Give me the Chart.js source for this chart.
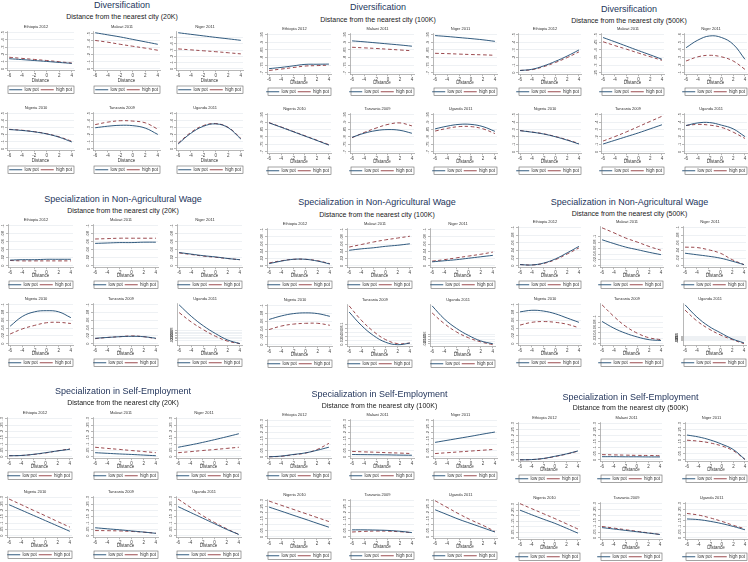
<!DOCTYPE html>
<html>
<head>
<meta charset="utf-8">
<script src="https://cdn.jsdelivr.net/npm/chart.js@4.4.1/dist/chart.umd.min.js"></script>
<style>
  body { margin: 0; background: #fff; }
  #page { position: relative; width: 748px; height: 562px; overflow: hidden; background: #fff;
          font-family: 'Liberation Sans', Arial, sans-serif; }
  .ttl { position: absolute; transform: translate(-50%, -50%); white-space: nowrap; }
  .main { font-size: 9px; color: #24365c; }
  .sub { font-size: 7px; color: #1a1a1a; }
  canvas { position: absolute; }
</style>
</head>
<body>
<div id="page"></div>
<script>
// x values and labels shared by every small plot
const distance = [-6, -4, -2, 0, 2, 4];
const xTicks = [-6, -4, -2, 0, 2, 4];
const countries = ['Ethiopia 2012', 'Malawi 2011', 'Niger 2011', 'Nigeria 2010', 'Tanzania 2009', 'Uganda 2011'];
const seriesNames = ['low pot', 'high pot'];
const outcomes = ['Diversification', 'Specialization in Non-Agricultural Wage', 'Specialization in Self-Employment'];
const cityCuts = ['20K', '100K', '500K'];

// y tick labels
const t05 = [0, .1, .2, .3, .4, .5];
const t01 = [0, .02, .04, .06, .08, .1];
const t03 = [0, .05, .1, .15, .2, .25, .3];
const div20Ticks = [t05, t05, t05, t05, t05, t05];
const div100Ticks = Array(6).fill([.7, .75, .8, .85, .9, .95]);
const div500Ticks = [t05, [.25, .3, .35, .4, .45, .5], [.1, .2, .3, .4, .5, .6], t05, t05, t05];
const wage20Ticks = [t01, t01, t01, t01, t01, [.02, .03, .04, .05, .06, .07, .08]];
const wage100Ticks = [t01, t01, t01, t01, t01, [.02, .03, .04, .05, .06]];
const wage500Ticks = [t01, t01, t01, t01, t01, [.02, .025, .03, .035, .04]];
const self20Ticks = Array(6).fill(t03);
const self100Ticks = Array(6).fill(t03);
const self500Ticks = Array(6).fill(t03);

// series values at distance = -6..4, one row per country
const div20Low = [
  [.140, .128, .115, .102, .088, .075],
  [.515, .485, .455, .420, .385, .350],
  [.580, .555, .530, .505, .482, .458],
  [.275, .262, .242, .212, .165, .098],
  [.300, .322, .335, .330, .295, .205],
  [.070, .220, .320, .355, .300, .140]
];
const div20High = [
  [.160, .145, .130, .115, .098, .080],
  [.405, .380, .350, .322, .295, .265],
  [.320, .305, .290, .275, .258, .240],
  [.278, .265, .245, .215, .170, .108],
  [.345, .380, .400, .395, .370, .280],
  [.080, .232, .330, .360, .305, .150]
];
const div100Low = [
  [.727, .735, .745, .755, .756, .757],
  [.910, .904, .897, .890, .883, .875],
  [.945, .939, .932, .925, .917, .907],
  [.895, .866, .836, .806, .776, .745],
  [.798, .825, .843, .850, .845, .825],
  [.855, .873, .885, .885, .870, .838]
];
const div100High = [
  [.715, .724, .734, .744, .747, .750],
  [.868, .864, .860, .855, .850, .845],
  [.828, .826, .823, .820, .818, .815],
  [.897, .868, .838, .808, .778, .748],
  [.795, .830, .860, .885, .895, .875],
  [.840, .858, .870, .870, .855, .823]
];
const div500Low = [
  [.030, .045, .090, .150, .220, .300],
  [.482, .454, .425, .396, .368, .339],
  [.430, .530, .585, .565, .475, .277],
  [.285, .265, .240, .203, .157, .105],
  [.105, .155, .205, .255, .310, .365],
  [.355, .390, .395, .360, .310, .205]
];
const div500High = [
  [.030, .040, .080, .135, .200, .275],
  [.454, .429, .405, .380, .356, .332],
  [.255, .310, .330, .310, .255, .144],
  [.287, .267, .243, .207, .162, .112],
  [.145, .205, .270, .340, .410, .480],
  [.355, .370, .360, .330, .265, .180]
];
const wage20Low = [
  [.014, .015, .015, .016, .016, .016],
  [.056, .057, .058, .058, .059, .059],
  [.033, .029, .025, .022, .018, .015],
  [.045, .070, .082, .085, .082, .067],
  [.014, .016, .018, .019, .018, .014],
  [.232, .164, .107, .061, .023, .002]
];
const wage20High = [
  [.013, .012, .012, .012, .012, .012],
  [.067, .068, .069, .069, .069, .069],
  [.032, .028, .024, .021, .018, .015],
  [.025, .038, .047, .054, .055, .052],
  [.013, .016, .018, .020, .018, .013],
  [.186, .130, .084, .045, .016, .001]
];
const wage100Low = [
  [.006, .013, .018, .018, .013, .005],
  [.043, .047, .050, .054, .057, .061],
  [.011, .014, .017, .021, .025, .029],
  [.065, .074, .080, .082, .080, .073],
  [.160, .095, .045, .012, .000, .008],
  [.180, .125, .085, .055, .032, .020]
];
const wage100High = [
  [.008, .014, .018, .018, .014, .006],
  [.052, .059, .066, .072, .077, .082],
  [.013, .017, .022, .027, .032, .038],
  [.039, .048, .053, .055, .055, .050],
  [.190, .120, .065, .025, .005, .008],
  [.150, .105, .070, .045, .028, .016]
];
const wage500Low = [
  [.003, .002, .007, .018, .034, .051],
  [.089, .076, .064, .055, .046, .038],
  [.033, .029, .025, .020, .012, .003],
  [.082, .086, .084, .077, .066, .055],
  [.083, .058, .039, .025, .015, .012],
  [.182, .127, .085, .055, .027, .009]
];
const wage500High = [
  [.003, .002, .006, .016, .031, .047],
  [.130, .113, .095, .081, .066, .053],
  [.049, .048, .042, .033, .016, .003],
  [.048, .055, .057, .055, .050, .041],
  [.145, .102, .065, .039, .022, .015],
  [.158, .109, .073, .045, .024, .005]
];
const self20Low = [
  [.008, .010, .019, .032, .046, .059],
  [.032, .027, .022, .018, .013, .008],
  [.075, .093, .113, .135, .158, .182],
  [.245, .203, .161, .119, .077, .035],
  [.063, .055, .047, .038, .029, .019],
  [.230, .185, .140, .095, .050, .010]
];
const self20High = [
  [.008, .010, .018, .030, .047, .062],
  [.075, .066, .058, .049, .041, .032],
  [.032, .040, .049, .057, .066, .075],
  [.290, .246, .201, .157, .112, .068],
  [.041, .040, .038, .034, .028, .020],
  [.290, .225, .160, .105, .055, .010]
];
const self100Low = [
  [.000, .006, .019, .032, .054, .080],
  [.019, .018, .017, .016, .014, .013],
  [.120, .137, .154, .171, .189, .206],
  [.247, .214, .180, .147, .113, .080],
  [.058, .058, .056, .053, .046, .035],
  [.225, .185, .145, .110, .075, .040]
];
const self100High = [
  [.000, .004, .017, .030, .060, .112],
  [.045, .041, .038, .034, .031, .027],
  [.027, .034, .041, .048, .055, .062],
  [.297, .263, .229, .195, .161, .127],
  [.040, .045, .048, .047, .042, .035],
  [.300, .245, .190, .140, .095, .045]
];
const self500Low = [
  [.000, .002, .011, .029, .049, .074],
  [.026, .026, .025, .025, .024, .024],
  [.206, .190, .165, .130, .085, .003],
  [.251, .210, .170, .132, .088, .043],
  [.090, .078, .066, .054, .042, .030],
  [.166, .160, .145, .125, .100, .071]
];
const self500High = [
  [.000, .002, .010, .027, .047, .072],
  [.043, .041, .039, .037, .036, .034],
  [.163, .155, .140, .115, .075, .003],
  [.310, .265, .220, .175, .128, .080],
  [.100, .086, .072, .058, .044, .030],
  [.214, .200, .175, .145, .110, .080]
];

// where each block of six plots sits on the page
const blocks = [
  { ticks: div20Ticks, low: div20Low, high: div20High, outcome: 0, cut: 0, cx: 122, ty: 5, sy: 16,
    lefts: [7, 93, 176], w: 67, tops: [31, 112], bottoms: [70, 150], gap: 19.5 },
  { ticks: div100Ticks, low: div100Low, high: div100High, outcome: 0, cut: 1, cx: 378, ty: 7, sy: 19,
    lefts: [267, 350, 433], w: 64, tops: [33, 113], bottoms: [74, 153], gap: 17.5 },
  { ticks: div500Ticks, low: div500Low, high: div500High, outcome: 0, cut: 2, cx: 629, ty: 9, sy: 20,
    lefts: [518, 601, 684], w: 63, tops: [33, 113], bottoms: [74, 153], gap: 17.5 },
  { ticks: wage20Ticks, low: wage20Low, high: wage20High, outcome: 1, cut: 0, cx: 123, ty: 198.5, sy: 209.5,
    lefts: [8, 93, 177], w: 65, tops: [224, 303], bottoms: [267, 345], gap: 17.5 },
  { ticks: wage100Ticks, low: wage100Low, high: wage100High, outcome: 1, cut: 1, cx: 377, ty: 202, sy: 213.5,
    lefts: [267, 347, 430], w: 65, tops: [228, 304], bottoms: [267, 346], gap: 17.5 },
  { ticks: wage500Ticks, low: wage500Low, high: wage500High, outcome: 1, cut: 2, cx: 629.5, ty: 202, sy: 213,
    lefts: [518, 600, 683], w: 63, tops: [226, 303], bottoms: [267, 345], gap: 17.5 },
  { ticks: self20Ticks, low: self20Low, high: self20High, outcome: 2, cut: 0, cx: 123, ty: 390.5, sy: 401.5,
    lefts: [7, 93, 176], w: 65, tops: [417, 496], bottoms: [458, 537], gap: 17.5 },
  { ticks: self100Ticks, low: self100Low, high: self100High, outcome: 2, cut: 1, cx: 379.5, ty: 394, sy: 404.5,
    lefts: [267, 350, 433], w: 64, tops: [419, 499], bottoms: [458, 538], gap: 17.5 },
  { ticks: self500Ticks, low: self500Low, high: self500High, outcome: 2, cut: 2, cx: 630.5, ty: 397, sy: 407,
    lefts: [518, 600, 685], w: 62, tops: [422, 502], bottoms: [461, 539], gap: 17.5 }
];

const FONT = "'Liberation Sans', Arial, sans-serif";
const LOW_COLOR = '#1a476f';
const HIGH_COLOR = '#90353b';
const YW = 9;          // y axis strip width
const LEG_PAD = 2;     // legend label padding
Chart.defaults.font.family = FONT;

function fmt(v) {
    if (v === 0) return '0';
    const s = String(Math.round(v * 100000) / 100000);
    return s.replace(/^(-?)0\./, '$1.');
}

// Stata-like frame round the legend
const legendBox = {
    id: 'legendBox',
    afterDraw(chart) {
        const lg = chart.legend;
        if (!lg || !lg.legendHitBoxes || !lg.legendHitBoxes.length) return;
        const hb = lg.legendHitBoxes[0];
        const a = chart.chartArea;
        const ctx = chart.ctx;
        ctx.save();
        ctx.setLineDash([]);
        ctx.strokeStyle = '#666';
        ctx.lineWidth = 0.6;
        ctx.strokeRect(a.left + 1, hb.top - 1.5, a.width - 1, hb.height + 3);
        ctx.restore();
    }
};

function drawPanel(page, b, i) {
    const col = i % 3, row = Math.floor(i / 3);
    const plotLeft = b.lefts[col], top = b.tops[row], bottom = b.bottoms[row];
    const low = b.low[i], high = b.high[i], ticks = b.ticks[i];
    const titleH = 4 * 1.2 + 2.5;
    const xAxisH = b.gap - LEG_PAD - 2.25;
    const distPad = Math.max(0, xAxisH - 2.7 - (b.gap - 8.5));
    const legendH = 4.5 + LEG_PAD + 10;
    const W = Math.round(YW + b.w + 3);
    const H = Math.round(titleH + (bottom - top) + xAxisH + legendH);

    const cv = document.createElement('canvas');
    cv.width = W;
    cv.height = H;
    cv.style.left = (plotLeft - YW) + 'px';
    cv.style.top = (top - titleH) + 'px';
    cv.style.width = W + 'px';
    cv.style.height = H + 'px';
    page.appendChild(cv);

    const lo = Math.min(ticks[0], ...low, ...high);
    const hi = Math.max(ticks[ticks.length - 1], ...low, ...high);
    const pad = (hi - lo) * 0.04;

    new Chart(cv, {
        type: 'line',
        data: {
            datasets: [{
                label: seriesNames[0],
                data: distance.map((x, k) => ({ x: x, y: low[k] })),
                borderColor: LOW_COLOR,
                borderWidth: 0.9,
                pointRadius: 0,
                tension: 0.4,
                fill: false
            }, {
                label: seriesNames[1],
                data: distance.map((x, k) => ({ x: x, y: high[k] })),
                borderColor: HIGH_COLOR,
                borderWidth: 0.9,
                borderDash: [3.5, 2.5],
                pointRadius: 0,
                tension: 0.4,
                fill: false
            }]
        },
        options: {
            responsive: false,
            animation: false,
            devicePixelRatio: 1,
            events: [],
            layout: { padding: { left: 0, right: 3, top: 0, bottom: 0 } },
            plugins: {
                title: {
                    display: true,
                    text: countries[i],
                    color: '#333',
                    font: { size: 4, family: FONT, weight: 'normal' },
                    padding: { top: 0, bottom: 2.5 }
                },
                legend: {
                    position: 'bottom',
                    align: 'end',
                    labels: {
                        usePointStyle: true,
                        pointStyle: 'line',
                        pointStyleWidth: 13,
                        boxHeight: 4.5,
                        padding: LEG_PAD,
                        color: '#333',
                        font: { size: 4.5, family: FONT }
                    }
                },
                tooltip: { enabled: false }
            },
            scales: {
                x: {
                    type: 'linear',
                    min: xTicks[0] - 0.35,
                    max: xTicks[xTicks.length - 1] + 0.35,
                    afterBuildTicks: s => { s.ticks = xTicks.map(v => ({ value: v })); },
                    afterFit: s => { s.height = xAxisH; },
                    ticks: { font: { size: 4.5 }, color: '#444', padding: 1, maxRotation: 0, autoSkip: false, callback: fmt },
                    grid: { drawOnChartArea: false, tickLength: 2, tickColor: '#888', tickWidth: 0.6 },
                    border: { color: '#888', width: 0.6 },
                    title: { display: true, text: 'Distance', color: '#333', font: { size: 4.5 }, padding: { top: 0, bottom: distPad } }
                },
                y: {
                    min: lo - pad,
                    max: hi + pad,
                    afterBuildTicks: s => { s.ticks = ticks.map(v => ({ value: v })); },
                    afterFit: s => { s.width = YW; },
                    ticks: { font: { size: 4 }, color: '#444', padding: 0.5, minRotation: 90, maxRotation: 90,
                             crossAlign: 'center', autoSkip: false, callback: fmt },
                    grid: { color: '#e2e8ec', lineWidth: 0.6, tickLength: 2, tickColor: '#888', tickWidth: 0.6 },
                    border: { color: '#888', width: 0.6 }
                }
            }
        },
        plugins: [legendBox]
    });
}

document.addEventListener('DOMContentLoaded', function() {
    const page = document.getElementById('page');
    blocks.forEach(b => {
        const t = document.createElement('div');
        t.className = 'ttl main';
        t.style.left = b.cx + 'px';
        t.style.top = b.ty + 'px';
        t.textContent = outcomes[b.outcome];
        page.appendChild(t);
        const s = document.createElement('div');
        s.className = 'ttl sub';
        s.style.left = b.cx + 'px';
        s.style.top = b.sy + 'px';
        s.textContent = 'Distance from the nearest city (' + cityCuts[b.cut] + ')';
        page.appendChild(s);
        for (let i = 0; i < 6; i++) drawPanel(page, b, i);
    });
});
</script>
</body>
</html>
